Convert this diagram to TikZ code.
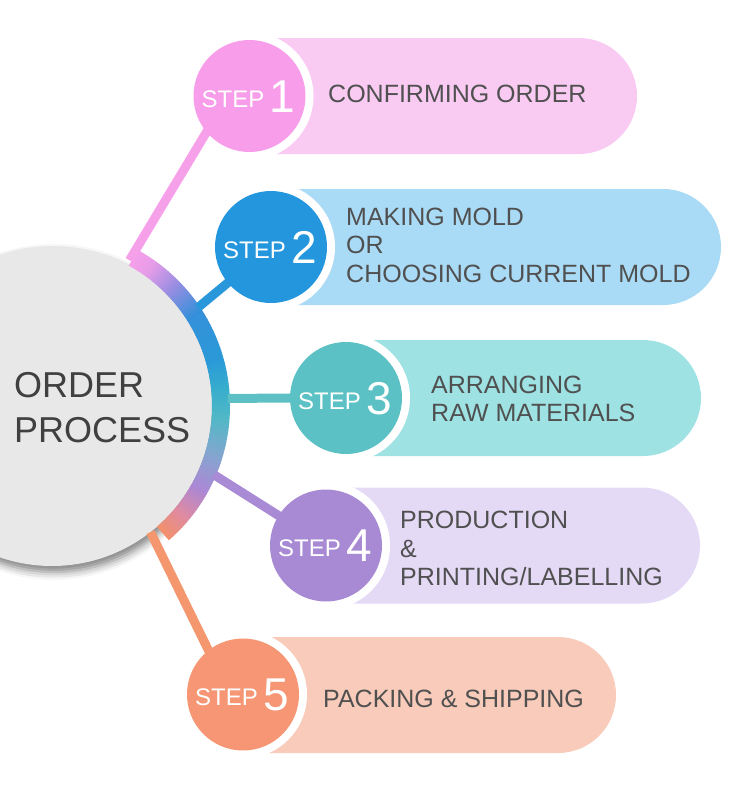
\documentclass[tikz,border=0pt]{standalone}
\usepackage{fontspec}
\setmainfont{Liberation Sans}
\usetikzlibrary{shadows.blur}
\pgfdeclarelayer{back}
\pgfsetlayers{back,main}
\definecolor{hubgray}{HTML}{E8E8E8}
\definecolor{hubtxt}{HTML}{404040}
\definecolor{lblgray}{HTML}{505050}
\definecolor{cA}{HTML}{F79DEA}\definecolor{pA}{HTML}{F9CBF3}\definecolor{lA}{HTML}{F6A0EA}
\definecolor{cB}{HTML}{2396DD}\definecolor{pB}{HTML}{AADBF6}\definecolor{lB}{HTML}{2B97DB}
\definecolor{cC}{HTML}{5BC1C4}\definecolor{pC}{HTML}{9EE2E4}\definecolor{lC}{HTML}{5CC0C4}
\definecolor{cD}{HTML}{A88AD4}\definecolor{pD}{HTML}{E5DAF6}\definecolor{lD}{HTML}{A98AD5}
\definecolor{cE}{HTML}{F69674}\definecolor{pE}{HTML}{F8CBBA}\definecolor{lE}{HTML}{F4976E}
\definecolor{rA}{HTML}{F3906E}
\definecolor{rB}{HTML}{DE8AA2}
\definecolor{rC}{HTML}{AC88D4}
\definecolor{rD}{HTML}{86A4D0}
\definecolor{rE}{HTML}{52B8C6}
\definecolor{rF}{HTML}{38AECD}
\definecolor{rG}{HTML}{2A9AD8}
\definecolor{rH}{HTML}{3590DA}
\definecolor{rI}{HTML}{9A8EE2}
\definecolor{rJ}{HTML}{E79CE8}
\definecolor{rK}{HTML}{F7A0EA}
\begin{document}
\begin{tikzpicture}[x=1pt,y=1pt,
  stepcirc/.style={circle, minimum size=112pt, inner sep=0pt},
  hubcirc/.style={circle, minimum size=320pt, inner sep=0pt, fill=hubgray},
  steptxt/.style={text=white, font=\fontsize{24}{24}\selectfont, inner sep=0pt, anchor=base west},
  stepnum/.style={text=white, font=\fontsize{46}{46}\selectfont, inner sep=0pt, anchor=base west},
  lbl/.style={text=lblgray, font=\fontsize{25}{25}\selectfont, inner sep=0pt, anchor=base west},
  hubline/.style={text=hubtxt, font=\fontsize{36}{36}\selectfont, inner sep=0pt, anchor=base west},
  conn/.style={line width=9pt},
  ringseg/.style={line width=18pt}
]
\useasboundingbox (0,0) rectangle (750,-787);
\clip (0,0) rectangle (750,-787);

% step circles
\node[stepcirc, fill=cA] (c1) at (249.5,-96) {};
\node[stepcirc, fill=cB] (c2) at (271,-247) {};
\node[stepcirc, fill=cC] (c3) at (346,-398) {};
\node[stepcirc, fill=cD] (c4) at (326,-545.5) {};
\node[stepcirc, fill=cE] (c5) at (243,-694.5) {};

\begin{pgfonlayer}{back}
  % hub circle
  \node[hubcirc, blur shadow={shadow xshift=2pt, shadow yshift=-6pt, shadow blur radius=8pt, shadow opacity=50}] (hub) at (52,-406) {};
  % gradient ring
  \foreach \s/\e/\ca/\cb in {-49/-40/rA/rB, -40/-30/rB/rC, -30/-18/rC/rD, -18/-5/rD/rE, -5/5/rE/rF, 5/15/rF/rG, 15/32/rG/rH, 32/44/rH/rI, 44/54/rI/rJ, 54/61/rJ/rK}{
    \pgfmathtruncatemacro\ee{\e-1}
    \foreach \a in {\s,...,\ee}{
      \pgfmathtruncatemacro\t{100*(\a-\s)/(\e-\s)}
      \draw[ringseg, draw=\cb!\t!\ca] ([shift={(\a:169)}]hub.center) arc[start angle=\a, end angle=\a+1.3, radius=169];
    }
  }
  % pills
  \fill[pA] (249.5,-38) -- (579,-38) arc[start angle=90, end angle=-90, radius=58] -- (249.5,-154) -- cycle;
  \fill[pB] (271,-189) -- (663,-189) arc[start angle=90, end angle=-90, radius=58] -- (271,-305) -- cycle;
  \fill[pC] (346,-340) -- (643,-340) arc[start angle=90, end angle=-90, radius=58] -- (346,-456) -- cycle;
  \fill[pD] (326,-487.5) -- (642,-487.5) arc[start angle=90, end angle=-90, radius=58] -- (326,-603.5) -- cycle;
  \fill[pE] (243,-637) -- (558,-637) arc[start angle=90, end angle=-90, radius=58] -- (243,-753) -- cycle;
  % white borders
  \foreach \c in {c1,c2,c3,c4,c5}{
    \fill[white] (\c.center) circle[radius=64];
  }
  % connector start points
  \coordinate (p1) at ([shift={(62:165)}]hub.center);
  \coordinate (p2) at ([shift={(34:176)}]hub.center);
  \coordinate (p3) at ([shift={(2.5:176)}]hub.center);
  \coordinate (p4) at ([shift={(-23:176)}]hub.center);
  \coordinate (p5) at ([shift={(-52:160)}]hub.center);
  % connectors
  \draw[conn, lA, shorten >=-6pt] (p1) -- (c1.220);
  \draw[conn, lB] (p2) -- (c2.center);
  \draw[conn, lC] (p3) -- (c3.center);
  \draw[conn, lD] (p4) -- (c4.center);
  \draw[conn, lE, shorten >=-6pt] (p5) -- (c5.128);
\end{pgfonlayer}

% hub text
\node[hubline] (h1) at (14,-397) {ORDER};
\node[hubline] (h2) at (14,-442) {PROCESS};

% step texts
\node[steptxt] (s1) at (201.5,-107) {STEP};
\node[stepnum] (n1) at (269.5,-112) {1};
\node[steptxt] (s2) at (223,-258) {STEP};
\node[stepnum] (n2) at (291,-263) {2};
\node[steptxt] (s3) at (298,-409) {STEP};
\node[stepnum] (n3) at (366,-414) {3};
\node[steptxt] (s4) at (278,-556.5) {STEP};
\node[stepnum] (n4) at (346,-561.5) {4};
\node[steptxt] (s5) at (195,-705.5) {STEP};
\node[stepnum] (n5) at (263,-710.5) {5};

% labels
\node[lbl] (t1) at (328,-102.5) {CONFIRMING ORDER};
\node[lbl] (t2a) at (346,-225) {MAKING MOLD};
\node[lbl] (t2b) at (346,-253.5) {OR};
\node[lbl] (t2c) at (346,-282) {CHOOSING CURRENT MOLD};
\node[lbl] (t3a) at (431,-393) {ARRANGING};
\node[lbl] (t3b) at (431,-421.5) {RAW MATERIALS};
\node[lbl] (t4a) at (400,-528.5) {PRODUCTION};
\node[lbl] (t4b) at (400,-557) {\&};
\node[lbl] (t4c) at (400,-585.5) {PRINTING/LABELLING};
\node[lbl] (t5) at (323,-707) {PACKING \& SHIPPING};
\end{tikzpicture}
\end{document}
